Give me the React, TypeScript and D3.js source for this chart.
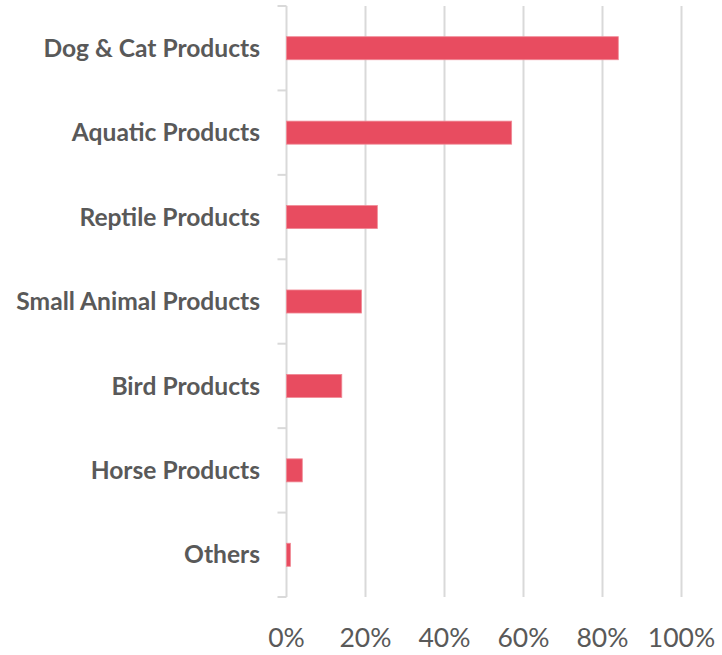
import React from "react";
import * as d3 from "d3";

const categories = [
  "Dog & Cat Products",
  "Aquatic Products",
  "Reptile Products",
  "Small Animal Products",
  "Bird Products",
  "Horse Products",
  "Others",
];
const values = [0.84, 0.57, 0.23, 0.19, 0.14, 0.04, 0.01];
const xTicks = [0, 0.2, 0.4, 0.6, 0.8, 1.0];

const W = 722;
const H = 655;
const left = 286.5;
const right = 681.5;
const top = 6;
const bottom = 597;
const FONT = "Lato, 'Open Sans', sans-serif";
const TEXT = "#595959";
const GRID = "#d9d9d9";
const BAR = "#E84C60";

export default function App() {
  const x = d3.scaleLinear().domain([0, 1]).range([left, right]);
  const y = d3
    .scaleBand<string>()
    .domain(categories)
    .range([top, bottom])
    .paddingInner(0.727)
    .paddingOuter(0.3635);
  const step = y.step();
  const fmt = d3.format(".0%");

  return (
    <svg
      width={W}
      height={H}
      style={{ position: "absolute", left: 0, top: 0, background: "#fff" }}
    >
      {xTicks.slice(1).map((t) => (
        <line key={t} x1={x(t)} x2={x(t)} y1={top} y2={bottom} stroke={GRID} strokeWidth={2} />
      ))}
      <line x1={left} x2={left} y1={top} y2={bottom} stroke={GRID} strokeWidth={2} />
      {d3.range(categories.length + 1).map((i) => (
        <line
          key={i}
          x1={left - 9}
          x2={left}
          y1={top + i * step}
          y2={top + i * step}
          stroke={GRID}
          strokeWidth={2}
        />
      ))}
      {categories.map((c, i) => (
        <rect
          key={c}
          x={x(0)}
          y={y(c)}
          width={x(values[i]) - x(0)}
          height={y.bandwidth()}
          fill={BAR}
          stroke="#F08A96"
          strokeWidth={0.8}
        />
      ))}
      {categories.map((c) => (
        <text
          key={c}
          x={260}
          y={(y(c) as number) + y.bandwidth() / 2}
          dy="0.35em"
          textAnchor="end"
          fontFamily={FONT}
          fontWeight="bold"
          fontSize={24.6}
          fill={TEXT}
        >
          {c}
        </text>
      ))}
      {xTicks.map((t) => (
        <text
          key={t}
          x={x(t)}
          y={647}
          textAnchor="middle"
          fontFamily={FONT}
          fontSize={26.5}
          fill={TEXT}
        >
          {fmt(t)}
        </text>
      ))}
    </svg>
  );
}
